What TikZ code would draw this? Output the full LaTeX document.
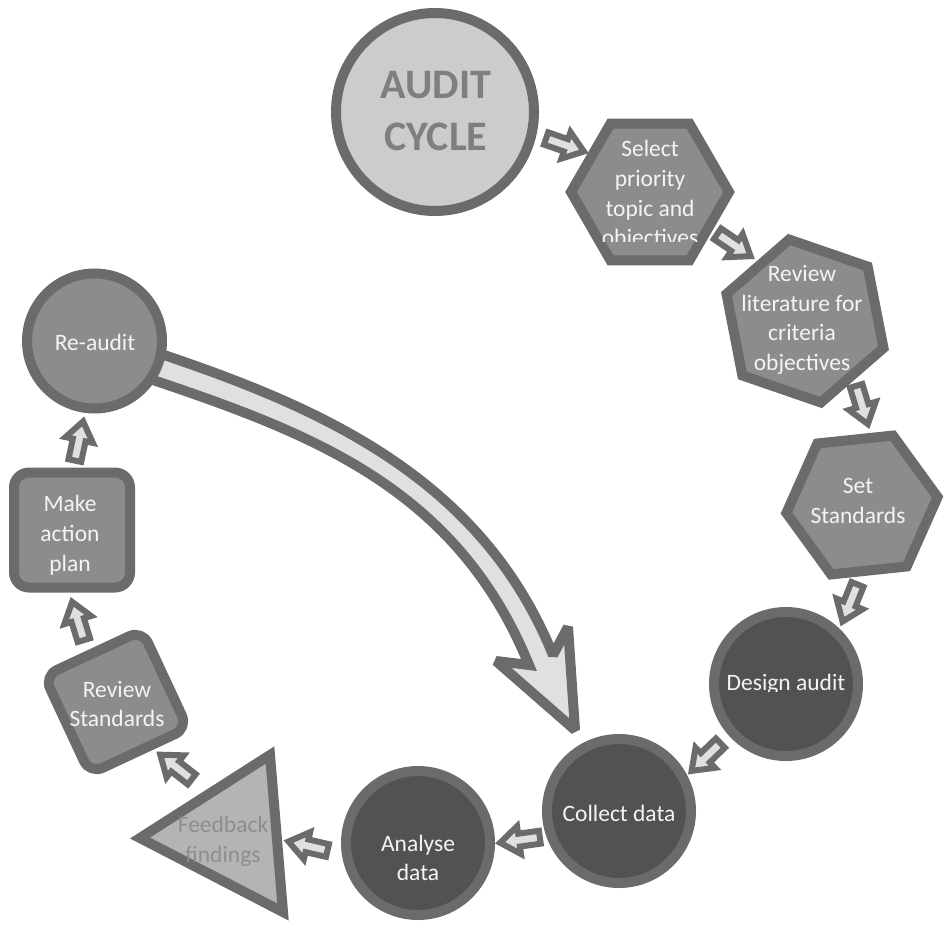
\documentclass[tikz,border=0pt]{standalone}
\usepackage{fontspec}
\setmainfont{Carlito}
\usetikzlibrary{shapes.geometric}
\definecolor{edge}{HTML}{6B6B6B}
\definecolor{midfill}{HTML}{8C8C8C}
\definecolor{darkfill}{HTML}{525252}
\definecolor{lightfill}{HTML}{CCCCCC}
\definecolor{trifill}{HTML}{B4B4B4}
\definecolor{arrowfill}{HTML}{E0E0E0}
\definecolor{labelwhite}{HTML}{F4F4F4}
\definecolor{titlegray}{HTML}{7F7F7F}
\definecolor{softgray}{HTML}{8E8E8E}

\begin{document}
\begin{tikzpicture}[x=1pt,y=-1pt,
  outline/.style={draw=edge, line width=10pt, inner sep=0pt, outer sep=0pt},
  hexshape/.style={outline, regular polygon, regular polygon sides=6, fill=midfill, minimum size=#1},
  roundshape/.style={outline, circle, minimum size=#1},
  boxtext/.style={text=labelwhite, align=center, inner sep=0pt, font=\fontsize{23.5}{29.8}\selectfont},
  smallarrow/.style={draw=edge, fill=arrowfill, line width=6pt, miter limit=3},
  bigarrow/.style={draw=edge, fill=arrowfill, line width=10pt, miter limit=2},
  stepper/.pic={\path[smallarrow] (-20,-6.5) -- (1,-6.5) -- (1,-14) -- (20,0) -- (1,14) -- (1,6.5) -- (-20,6.5) -- cycle;}
]
\fill[white] (0,0) rectangle (945,933);
\useasboundingbox (0,0) rectangle (945,933);

% long return arrow from re-audit back to data collection
\path[bigarrow] (137,374) -- (156,381)
  .. controls (316,435) and (458,490.5) .. (529,665)
  -- (496,661) -- (575,730) -- (568,627) -- (553,655)
  .. controls (482,479.5) and (324,409) .. (164,355)
  -- (145,348.6) -- cycle;

% stages
\node[roundshape=198, fill=lightfill] (audit) at (435,112) {};
\node[hexshape=158] (select) at (650,192) {};
\node[hexshape=166, shape border rotate=-19] (review) at (805,321) {};
\node[hexshape=152, shape border rotate=6] (standards) at (862,505) {};
\node[roundshape=144, fill=darkfill] (design) at (786,684) {};
\node[roundshape=144, fill=darkfill] (collect) at (619,811) {};
\node[roundshape=144, fill=darkfill] (analyse) at (418,843) {};
\coordinate (fb-left) at (140,838);
\coordinate (fb-top) at (270,755);
\coordinate (fb-bottom) at (283,912);
\draw[outline, fill=trifill] (fb-left) -- (fb-top) -- (fb-bottom) -- cycle;
\node[outline, fill=midfill, rectangle, rounded corners=14pt, minimum size=108, rotate=25] (revstd) at (116,702) {};
\node[outline, fill=midfill, rectangle, rounded corners=15pt, minimum width=116, minimum height=115] (plan) at (72,530) {};
\node[roundshape=135, fill=midfill] (reaudit) at (94.5,341) {};

% labels
\node[align=center, inner sep=0pt, text=titlegray, font=\bfseries\fontsize{42}{52}\selectfont] (t-audit) at (436,111) {AUDIT\\CYCLE};
\begin{scope}
  \clip (560,100) rectangle (740,242);
  \node[boxtext] (t-select) at (650,195) {Select\\priority\\topic and\\objectives};
\end{scope}
\node[boxtext] (t-review) at (802,320) {Review\\literature for\\criteria\\objectives};
\node[boxtext] (t-standards) at (858,501) {Set\\Standards};
\begin{scope}
  \clip (700,600) rectangle (870,691);
  \node[boxtext] (t-design) at (786,684) {Design audit};
\end{scope}
\node[boxtext] (t-collect) at (619,813) {Collect data};
\node[boxtext] (t-analyse) at (418,858) {Analyse\\data};
\node[boxtext, text=softgray] (t-feedback) at (223,841) {Feedback\\findings};
\node[boxtext] (t-revstd) at (117,704) {Review\\Standards};
\node[boxtext] (t-plan) at (70,535) {Make\\action\\plan};
\node[boxtext] (t-reaudit) at (95,342) {Re-audit};

% step arrows between stages
\pic[rotate=-19] (s1) at (565,145) {stepper};
\pic[rotate=-34] (s2) at (734,245) {stepper};
\pic[rotate=-73] (s3) at (862,405) {stepper};
\pic[rotate=-112] (s4) at (850,603) {stepper};
\pic[rotate=-136] (s5) at (706,757) {stepper};
\pic[rotate=-172] (s6) at (520,840) {stepper};
\pic[rotate=-193] (s7) at (308,846) {stepper};
\pic[rotate=-218] (s8) at (176,767) {stepper};
\pic[rotate=-253] (s9) at (78,621) {stepper};
\pic[rotate=-282] (s10) at (79,441) {stepper};
\end{tikzpicture}
\end{document}
